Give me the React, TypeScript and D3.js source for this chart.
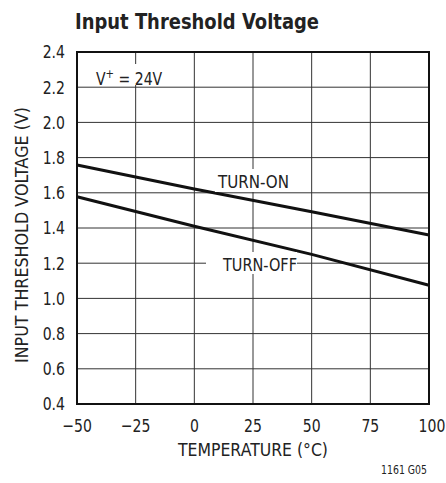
import React from 'react';
import * as d3 from 'd3';

// temperature points (°C) and threshold voltages
const temps = [-50, 0, 50, 100];
const turnOn = [1.758, 1.622, 1.492, 1.36];
const turnOff = [1.578, 1.41, 1.25, 1.075];

const xTicks = [-50, -25, 0, 25, 50, 75, 100];
const yTicks = [0.4, 0.6, 0.8, 1.0, 1.2, 1.4, 1.6, 1.8, 2.0, 2.2, 2.4];

const W = 446;
const H = 483;
const FONT = "'DejaVu Sans', sans-serif";
const SX = 0.78; // squeeze to mimic a condensed face

// text squeezed horizontally around its own anchor point
const T: React.FC<{
  x: number;
  y: number;
  size?: number;
  anchor?: 'start' | 'middle' | 'end';
  dy?: string;
  children: React.ReactNode;
}> = ({ x, y, size = 18, anchor = 'start', dy, children }) => (
  <g transform={`translate(${x},${y}) scale(${SX},1)`}>
    <text x={0} y={0} dy={dy} fontSize={size} textAnchor={anchor} fill="#222">
      {children}
    </text>
  </g>
);

const App: React.FC = () => {
  const left = 77;
  const right = 429;
  const top = 52;
  const bottom = 404;

  const x = d3.scaleLinear().domain([-50, 100]).range([left, right]);
  const y = d3.scaleLinear().domain([0.4, 2.4]).range([bottom, top]);

  const line = d3
    .line<number>()
    .x((_, i) => x(temps[i]))
    .y((d) => y(d));

  const fmtX = d3.format('');
  const fmtY = d3.format('.1f');

  return (
    <svg
      width={W}
      height={H}
      style={{ position: 'absolute', left: 0, top: 0, background: '#fff' }}
      fontFamily={FONT}
    >
      {/* Title */}
      <text x={75} y={29} fontSize={22} fontWeight="bold" fill="#222" textLength={244} lengthAdjust="spacingAndGlyphs">
        Input Threshold Voltage
      </text>

      {/* grid */}
      <g stroke="#333" strokeWidth={1}>
        {xTicks.slice(1, -1).map((t) => (
          <line key={'gx' + t} x1={x(t)} x2={x(t)} y1={top} y2={bottom} />
        ))}
      </g>

      {/* labels with white backing (only break the vertical line) */}
      <rect x={94} y={64} width={72} height={21} fill="#fff" />
      <T x={96} y={85}>
        V<tspan fontSize={13} dy={-7}>+</tspan>
        <tspan dy={7}> = 24V</tspan>
      </T>

      <g stroke="#333" strokeWidth={1}>
        {yTicks.slice(1, -1).map((t) => (
          <line key={'gy' + t} x1={left} x2={right} y1={y(t)} y2={y(t)} />
        ))}
      </g>

      {/* curves */}
      <g fill="none" stroke="#111" strokeWidth={3}>
        <path d={line(turnOn) || ''} />
        <path d={line(turnOff) || ''} />
      </g>

      <rect x={215} y={169} width={77} height={23} fill="#fff" />
      <text x={218} y={188} fontSize={18} fill="#222" textLength={71} lengthAdjust="spacingAndGlyphs">
        TURN-ON
      </text>

      <rect x={206} y={252} width={91} height={22} fill="#fff" />
      <text x={223} y={270.5} fontSize={18} fill="#222" textLength={74} lengthAdjust="spacingAndGlyphs">
        TURN-OFF
      </text>

      {/* frame */}
      <rect x={left} y={top} width={right - left} height={bottom - top} fill="none" stroke="#111" strokeWidth={2} />

      {/* y tick labels */}
      {yTicks.map((t) => (
        <T key={'ly' + t} x={65} y={y(t)} dy="0.36em" anchor="end">
          {fmtY(t)}
        </T>
      ))}

      {/* x tick labels */}
      {xTicks.map((t) => (
        <T key={'lx' + t} x={x(t) + (t === 100 ? 3 : 0)} y={432} anchor="middle">
          {fmtX(t)}
        </T>
      ))}

      {/* axis titles */}
      <text x={253} y={456} fontSize={18} fill="#222" textAnchor="middle" textLength={150} lengthAdjust="spacingAndGlyphs">
        TEMPERATURE (°C)
      </text>
      <text
        transform={`translate(28, ${235}) rotate(-90)`}
        fontSize={18}
        fill="#222"
        textAnchor="middle"
        textLength={256}
        lengthAdjust="spacingAndGlyphs"
      >
        INPUT THRESHOLD VOLTAGE (V)
      </text>

      <T x={427} y={474} size={12} anchor="end">
        1161 G05
      </T>
    </svg>
  );
};

export default App;
